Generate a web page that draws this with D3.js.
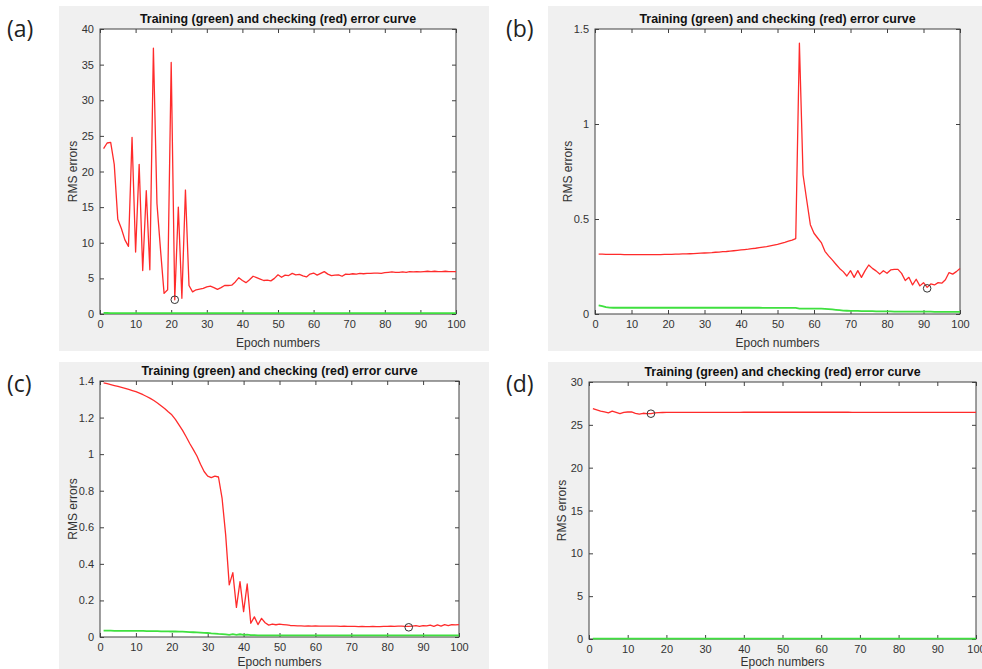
<!DOCTYPE html>
<html>
<head>
<meta charset="utf-8">
<script src="https://cdn.jsdelivr.net/npm/d3@7"></script>
<style>
  body { margin: 0; background: #fff; }
  svg { display: block; }
</style>
</head>
<body>
<svg id="chart" width="982" height="669"></svg>
<script>
// epoch axis ticks (shared) and y tick labels per panel
const xTicks = [0, 10, 20, 30, 40, 50, 60, 70, 80, 90, 100]
const yTicksA = [0, 5, 10, 15, 20, 25, 30, 35, 40]
const yTicksB = [0, 0.5, 1, 1.5]
const yTicksC = [0, 0.2, 0.4, 0.6, 0.8, 1, 1.2, 1.4]
const yTicksD = [0, 5, 10, 15, 20, 25, 30]

// checking (red) and training (green) RMS errors, epochs 1..100
const redA = [23.2, 24.0, 24.1, 21.0, 13.3, 12.0, 10.4, 9.5, 24.8, 8.7,
  21.0, 6.1, 17.3, 6.2, 37.3, 15.5, 9.0, 2.9, 3.4, 35.3,
  2.0, 15.0, 2.2, 17.4, 4.0, 3.1, 3.4, 3.5, 3.6, 3.8,
  3.9, 3.7, 3.45, 3.7, 4.0, 4.0, 4.05, 4.5, 5.1, 4.7,
  4.4, 4.8, 5.3, 5.1, 4.9, 4.7, 4.75, 4.65, 5.0, 5.5,
  5.15, 5.45, 5.4, 5.7, 5.5, 5.55, 5.35, 5.2, 5.6, 5.75,
  5.45, 5.7, 5.95, 5.6, 5.4, 5.45, 5.5, 5.3, 5.6, 5.55,
  5.65, 5.6, 5.7, 5.65, 5.7, 5.7, 5.75, 5.75, 5.7, 5.8,
  5.85, 5.9, 5.85, 5.85, 5.9, 5.85, 5.95, 5.9, 5.95, 5.9,
  5.95, 6.0, 5.95, 6.0, 5.95, 5.95, 6.0, 5.95, 5.95, 5.95]
const greenA = [0.15, 0.14, 0.13, 0.12, 0.12, 0.12, 0.12, 0.12, 0.12, 0.12,
  0.12, 0.12, 0.12, 0.12, 0.12, 0.12, 0.12, 0.12, 0.12, 0.12,
  0.12, 0.12, 0.12, 0.12, 0.12, 0.12, 0.12, 0.12, 0.12, 0.12,
  0.12, 0.12, 0.12, 0.12, 0.12, 0.12, 0.12, 0.12, 0.12, 0.12,
  0.12, 0.12, 0.12, 0.12, 0.12, 0.12, 0.12, 0.12, 0.12, 0.12,
  0.12, 0.12, 0.12, 0.12, 0.12, 0.12, 0.12, 0.12, 0.12, 0.12,
  0.12, 0.12, 0.12, 0.12, 0.12, 0.12, 0.12, 0.12, 0.12, 0.12,
  0.12, 0.12, 0.12, 0.12, 0.12, 0.12, 0.12, 0.12, 0.12, 0.12,
  0.12, 0.12, 0.12, 0.12, 0.12, 0.12, 0.12, 0.12, 0.12, 0.12,
  0.12, 0.12, 0.12, 0.12, 0.12, 0.12, 0.12, 0.12, 0.12, 0.12]

const redB = [0.315, 0.315, 0.314, 0.314, 0.314, 0.314, 0.314, 0.313, 0.313, 0.313,
  0.313, 0.313, 0.313, 0.313, 0.313, 0.313, 0.313, 0.313, 0.314, 0.314,
  0.314, 0.315, 0.315, 0.316, 0.316, 0.317, 0.318, 0.319, 0.320, 0.321,
  0.322, 0.323, 0.325, 0.326, 0.328, 0.329, 0.331, 0.333, 0.335, 0.337,
  0.339, 0.341, 0.344, 0.346, 0.349, 0.352, 0.355, 0.359, 0.363, 0.367,
  0.372, 0.377, 0.383, 0.389, 0.397, 1.425, 0.733, 0.600, 0.470, 0.425,
  0.400, 0.376, 0.330, 0.306, 0.285, 0.262, 0.240, 0.223, 0.200, 0.228,
  0.193, 0.228, 0.193, 0.228, 0.258, 0.240, 0.227, 0.210, 0.228, 0.214,
  0.232, 0.235, 0.235, 0.214, 0.176, 0.193, 0.153, 0.183, 0.148, 0.165,
  0.140, 0.158, 0.153, 0.165, 0.162, 0.180, 0.218, 0.210, 0.223, 0.240]
const greenB = [0.046, 0.042, 0.036, 0.034, 0.033, 0.033, 0.033, 0.033, 0.033, 0.033,
  0.033, 0.033, 0.033, 0.033, 0.033, 0.033, 0.033, 0.033, 0.033, 0.033,
  0.033, 0.033, 0.033, 0.033, 0.033, 0.033, 0.033, 0.033, 0.033, 0.033,
  0.033, 0.033, 0.033, 0.033, 0.033, 0.033, 0.033, 0.033, 0.033, 0.033,
  0.033, 0.033, 0.033, 0.033, 0.033, 0.032, 0.032, 0.032, 0.032, 0.032,
  0.032, 0.032, 0.032, 0.032, 0.032, 0.028, 0.028, 0.028, 0.028, 0.028,
  0.028, 0.028, 0.027, 0.026, 0.024, 0.022, 0.020, 0.018, 0.017, 0.016,
  0.016, 0.016, 0.015, 0.015, 0.015, 0.015, 0.014, 0.014, 0.014, 0.014,
  0.014, 0.013, 0.013, 0.013, 0.013, 0.013, 0.012, 0.012, 0.012, 0.012,
  0.012, 0.012, 0.011, 0.011, 0.011, 0.011, 0.011, 0.011, 0.011, 0.011]

const redC = [1.390, 1.385, 1.380, 1.375, 1.370, 1.365, 1.360, 1.354, 1.348, 1.342,
  1.334, 1.325, 1.315, 1.305, 1.293, 1.280, 1.265, 1.250, 1.232, 1.215,
  1.190, 1.160, 1.130, 1.095, 1.058, 1.025, 0.990, 0.945, 0.905, 0.880,
  0.872, 0.880, 0.875, 0.760, 0.560, 0.285, 0.352, 0.162, 0.303, 0.139,
  0.290, 0.075, 0.110, 0.068, 0.102, 0.078, 0.065, 0.071, 0.067, 0.070,
  0.068, 0.066, 0.063, 0.062, 0.061, 0.061, 0.060, 0.061, 0.060, 0.061,
  0.060, 0.060, 0.059, 0.060, 0.059, 0.059, 0.058, 0.059, 0.058, 0.058,
  0.058, 0.057, 0.058, 0.057, 0.057, 0.058, 0.057, 0.057, 0.058, 0.058,
  0.059, 0.058, 0.060, 0.059, 0.058, 0.058, 0.060, 0.062, 0.058, 0.062,
  0.061, 0.065, 0.058, 0.066, 0.060, 0.068, 0.062, 0.068, 0.066, 0.068]
const greenC = [0.035, 0.035, 0.035, 0.034, 0.034, 0.034, 0.034, 0.033, 0.033, 0.033,
  0.033, 0.033, 0.032, 0.032, 0.032, 0.032, 0.031, 0.031, 0.031, 0.030,
  0.030, 0.029, 0.029, 0.028, 0.027, 0.026, 0.025, 0.024, 0.023, 0.022,
  0.020, 0.019, 0.017, 0.016, 0.014, 0.012, 0.016, 0.012, 0.015, 0.012,
  0.013, 0.010, 0.010, 0.009, 0.009, 0.009, 0.009, 0.009, 0.009, 0.009,
  0.009, 0.009, 0.009, 0.009, 0.009, 0.009, 0.009, 0.009, 0.009, 0.009,
  0.009, 0.009, 0.009, 0.009, 0.009, 0.009, 0.009, 0.009, 0.009, 0.009,
  0.009, 0.009, 0.009, 0.009, 0.009, 0.009, 0.009, 0.009, 0.009, 0.009,
  0.009, 0.009, 0.009, 0.009, 0.009, 0.009, 0.009, 0.009, 0.009, 0.009,
  0.009, 0.009, 0.009, 0.009, 0.009, 0.009, 0.009, 0.009, 0.009, 0.009]

const redD = [26.9, 26.75, 26.6, 26.5, 26.4, 26.6, 26.45, 26.3, 26.45, 26.5,
  26.5, 26.35, 26.25, 26.35, 26.3, 26.3, 26.4, 26.42, 26.44, 26.45,
  26.45, 26.45, 26.45, 26.45, 26.45, 26.45, 26.45, 26.46, 26.46, 26.46,
  26.46, 26.46, 26.46, 26.46, 26.46, 26.46, 26.46, 26.46, 26.46, 26.47,
  26.47, 26.47, 26.47, 26.47, 26.47, 26.47, 26.47, 26.47, 26.47, 26.47,
  26.47, 26.47, 26.47, 26.47, 26.47, 26.47, 26.47, 26.47, 26.47, 26.47,
  26.47, 26.47, 26.47, 26.47, 26.47, 26.47, 26.47, 26.46, 26.46, 26.46,
  26.46, 26.46, 26.46, 26.46, 26.46, 26.46, 26.46, 26.46, 26.46, 26.46,
  26.46, 26.46, 26.46, 26.46, 26.46, 26.46, 26.46, 26.46, 26.46, 26.46,
  26.46, 26.46, 26.46, 26.46, 26.46, 26.46, 26.46, 26.46, 26.46, 26.46]
const greenD = [0.05, 0.05, 0.05, 0.05, 0.05, 0.05, 0.05, 0.05, 0.05, 0.05,
  0.05, 0.05, 0.05, 0.05, 0.05, 0.05, 0.05, 0.05, 0.05, 0.05,
  0.05, 0.05, 0.05, 0.05, 0.05, 0.05, 0.05, 0.05, 0.05, 0.05,
  0.05, 0.05, 0.05, 0.05, 0.05, 0.05, 0.05, 0.05, 0.05, 0.05,
  0.05, 0.05, 0.05, 0.05, 0.05, 0.05, 0.05, 0.05, 0.05, 0.05,
  0.05, 0.05, 0.05, 0.05, 0.05, 0.05, 0.05, 0.05, 0.05, 0.05,
  0.05, 0.05, 0.05, 0.05, 0.05, 0.05, 0.05, 0.05, 0.05, 0.05,
  0.05, 0.05, 0.05, 0.05, 0.05, 0.05, 0.05, 0.05, 0.05, 0.05,
  0.05, 0.05, 0.05, 0.05, 0.05, 0.05, 0.05, 0.05, 0.05, 0.05,
  0.05, 0.05, 0.05, 0.05, 0.05, 0.05, 0.05, 0.05, 0.05, 0.05]

// best checking epoch (circle marker): [epoch, error]
const bestA = [21, 2.0]
const bestB = [91, 0.135]
const bestC = [86, 0.053]
const bestD = [16, 26.3]

const panels = [
  { tag: "(a)", tagXY: [7, 37], bg: [59, 6, 489, 351], plot: [100, 29, 456, 314], xlab: 33,
    yTicks: yTicksA, red: redA, green: greenA, best: bestA },
  { tag: "(b)", tagXY: [506, 37], bg: [548, 6, 982, 351], plot: [595, 29, 960, 314], xlab: 33,
    yTicks: yTicksB, red: redB, green: greenB, best: bestB },
  { tag: "(c)", tagXY: [7, 392], bg: [59, 362, 489, 669], plot: [100, 381, 459, 637], xlab: 29,
    yTicks: yTicksC, red: redC, green: greenC, best: bestC },
  { tag: "(d)", tagXY: [506, 392], bg: [548, 362, 982, 669], plot: [589, 382, 976, 639], xlab: 27,
    yTicks: yTicksD, red: redD, green: greenD, best: bestD }
]

const svg = d3.select("#chart")
const axisColor = "#404040"
const font = "'Liberation Sans', Arial, sans-serif"

panels.forEach(drawPanel)

function drawPanel(p) {
  const [x0, y0, x1, y1] = p.plot
  const [bx0, by0, bx1, by1] = p.bg
  const g = svg.append("g")

  g.append("rect")
    .attr("x", bx0).attr("y", by0)
    .attr("width", bx1 - bx0).attr("height", by1 - by0)
    .attr("fill", "#f0f0f0")

  g.append("text")
    .attr("x", p.tagXY[0]).attr("y", p.tagXY[1])
    .attr("font-family", "'Open Sans', 'Noto Sans', sans-serif")
    .attr("font-size", 23)
    .attr("fill", "#222")
    .text(p.tag)

  g.append("rect")
    .attr("x", x0).attr("y", y0)
    .attr("width", x1 - x0).attr("height", y1 - y0)
    .attr("fill", "#fff")

  var x = d3.scaleLinear().domain([0, 100]).range([x0, x1])
  var y = d3.scaleLinear().domain([0, d3.max(p.yTicks)]).range([y1, y0])
  var fmt = function(d) { return String(+d.toFixed(2)) }

  var bottom = g.append("g")
    .attr("transform", "translate(0," + y1 + ")")
    .call(d3.axisBottom(x).tickValues(xTicks).tickSize(-4).tickSizeOuter(0).tickPadding(6))
  var left = g.append("g")
    .attr("transform", "translate(" + x0 + ",0)")
    .call(d3.axisLeft(y).tickValues(p.yTicks).tickFormat(fmt).tickSize(-4).tickSizeOuter(0).tickPadding(6))
  var top = g.append("g")
    .attr("transform", "translate(0," + y0 + ")")
    .call(d3.axisTop(x).tickValues(xTicks).tickSize(-4).tickSizeOuter(0).tickFormat(""))
  var right = g.append("g")
    .attr("transform", "translate(" + x1 + ",0)")
    .call(d3.axisRight(y).tickValues(p.yTicks).tickSize(-4).tickSizeOuter(0).tickFormat(""))

  ;[bottom, left, top, right].forEach(function(a) {
    a.attr("font-family", font).attr("font-size", 11)
    a.select(".domain").remove()
    a.selectAll("line").attr("stroke", axisColor)
    a.selectAll("text").attr("fill", "#333")
  })

  g.append("rect")
    .attr("x", x0).attr("y", y0)
    .attr("width", x1 - x0).attr("height", y1 - y0)
    .attr("fill", "none")
    .attr("stroke", axisColor)
    .attr("stroke-width", 1)

  var line = d3.line()
    .x(function(d, i) { return x(i + 1) })
    .y(function(d) { return y(d) })

  g.append("path")
    .datum(p.green)
    .attr("d", line)
    .attr("fill", "none")
    .attr("stroke", "#3fe03f")
    .attr("stroke-width", 1.8)

  g.append("path")
    .datum(p.red)
    .attr("d", line)
    .attr("fill", "none")
    .attr("stroke", "#ff2b2b")
    .attr("stroke-width", 1.3)
    .attr("stroke-linejoin", "round")

  g.append("circle")
    .attr("cx", x(p.best[0]))
    .attr("cy", y(p.best[1]))
    .attr("r", 3.8)
    .attr("fill", "none")
    .attr("stroke", "#333")
    .attr("stroke-width", 1)

  g.append("text")
    .attr("x", (x0 + x1) / 2).attr("y", y0 - 6)
    .attr("text-anchor", "middle")
    .attr("font-family", font)
    .attr("font-weight", "bold")
    .attr("font-size", 12.4)
    .attr("fill", "#111")
    .text("Training (green) and checking (red) error curve")

  g.append("text")
    .attr("x", (x0 + x1) / 2).attr("y", y1 + p.xlab)
    .attr("text-anchor", "middle")
    .attr("font-family", font)
    .attr("font-size", 12)
    .attr("fill", "#333")
    .text("Epoch numbers")

  g.append("text")
    .attr("transform", "translate(" + (x0 - 27) + "," + ((y0 + y1) / 2) + ") rotate(-90)")
    .attr("text-anchor", "middle")
    .attr("dy", "0.35em")
    .attr("font-family", font)
    .attr("font-size", 12)
    .attr("fill", "#333")
    .text("RMS errors")
}
</script>
</body>
</html>
